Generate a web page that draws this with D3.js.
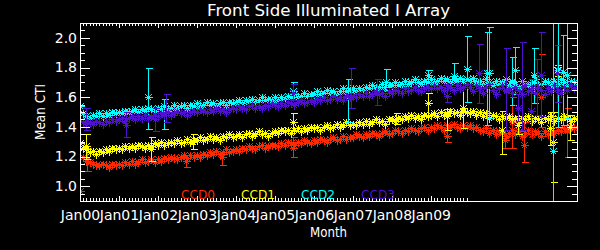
<!DOCTYPE html>
<html>
<head>
<meta charset="utf-8">
<script src="https://cdn.jsdelivr.net/npm/d3@7"></script>
<style>
  body { margin: 0; background: #000; }
  svg { display: block; background: #000; }
</style>
</head>
<body>
<svg id="chart" width="600" height="250"></svg>
<script>
// data, one value per month starting Jan 2000
const seriesNames = ["CCD0", "CCD1", "CCD2", "CCD3"];
const seriesColors = ["#ff2800", "#ffff00", "#00ffff", "#5010d0"];
const tickLabels = ["Jan00", "Jan01", "Jan02", "Jan03", "Jan04", "Jan05", "Jan06", "Jan07", "Jan08", "Jan09"];

const ccd0 = [0.97,1.20,1.17,1.16,1.15,1.145,1.14,1.15,1.14,1.13,1.15,1.14,
  1.15,1.14,1.16,1.15,1.17,1.15,1.16,1.18,1.16,1.17,1.18,1.16,
  1.18,1.17,1.19,1.18,1.20,1.19,1.18,1.20,1.21,1.19,1.21,1.20,
  1.21,1.20,1.22,1.21,1.23,1.22,1.24,1.22,1.23,1.25,1.23,1.24,
  1.25,1.24,1.26,1.25,1.27,1.26,1.25,1.27,1.28,1.26,1.27,1.28,
  1.28,1.27,1.29,1.28,1.30,1.29,1.28,1.30,1.29,1.31,1.30,1.29,
  1.31,1.30,1.32,1.31,1.30,1.32,1.33,1.31,1.32,1.34,1.32,1.33,
  1.33,1.35,1.34,1.33,1.35,1.34,1.36,1.35,1.34,1.36,1.37,1.35,
  1.36,1.38,1.37,1.36,1.38,1.37,1.39,1.38,1.37,1.39,1.40,1.38,
  1.40,1.39,1.41,1.40,1.38,1.41,1.40,1.42,1.40,1.39,1.41,1.40,
  1.41,1.39,1.40,1.38,1.37,1.39,1.36,1.38,1.35,1.37,1.36,1.34,
  1.36,1.38,1.35,1.37,1.34,1.36,1.38,1.35,1.37,1.36,1.34,1.37,
  1.35,1.37,1.36,1.38,1.37,1.39,1.38,1.40,1.39];

const ccd1 = [1.29,1.26,1.25,1.23,1.24,1.22,1.24,1.23,1.25,1.24,1.26,1.25,
  1.26,1.25,1.27,1.26,1.27,1.26,1.28,1.27,1.26,1.28,1.27,1.29,
  1.28,1.30,1.28,1.29,1.30,1.29,1.31,1.29,1.30,1.32,1.30,1.31,
  1.31,1.33,1.31,1.32,1.34,1.32,1.33,1.31,1.34,1.33,1.35,1.33,
  1.34,1.35,1.33,1.35,1.36,1.34,1.35,1.37,1.35,1.36,1.34,1.36,
  1.37,1.36,1.38,1.37,1.38,1.36,1.38,1.39,1.37,1.39,1.38,1.40,
  1.39,1.40,1.38,1.40,1.41,1.39,1.40,1.42,1.40,1.41,1.43,1.41,
  1.42,1.41,1.43,1.42,1.44,1.42,1.43,1.45,1.43,1.44,1.42,1.45,
  1.45,1.44,1.46,1.45,1.47,1.46,1.48,1.46,1.47,1.45,1.48,1.47,
  1.48,1.49,1.47,1.50,1.48,1.49,1.51,1.49,1.50,1.48,1.51,1.50,
  1.49,1.51,1.48,1.50,1.47,1.49,1.46,1.48,1.47,1.45,1.47,1.46,
  1.47,1.45,1.46,1.44,1.46,1.45,1.47,1.44,1.46,1.45,1.43,1.46,
  1.45,1.47,1.44,1.46,1.45,1.47,1.46,1.44,1.46];

const ccd2 = [1.54,1.49,1.47,1.46,1.48,1.47,1.49,1.47,1.49,1.48,1.50,1.49,
  1.50,1.49,1.51,1.50,1.51,1.52,1.50,1.52,1.51,1.53,1.52,1.51,
  1.53,1.52,1.54,1.52,1.53,1.55,1.53,1.54,1.55,1.53,1.55,1.54,
  1.56,1.54,1.55,1.57,1.55,1.56,1.54,1.56,1.57,1.55,1.57,1.56,
  1.57,1.58,1.56,1.58,1.57,1.59,1.57,1.58,1.60,1.58,1.59,1.58,
  1.60,1.58,1.60,1.59,1.61,1.60,1.62,1.60,1.61,1.63,1.61,1.62,
  1.62,1.64,1.62,1.63,1.65,1.63,1.64,1.62,1.64,1.66,1.64,1.65,
  1.66,1.64,1.66,1.65,1.67,1.66,1.68,1.66,1.67,1.69,1.67,1.68,
  1.68,1.70,1.68,1.69,1.71,1.69,1.70,1.72,1.70,1.69,1.71,1.70,
  1.72,1.70,1.71,1.73,1.71,1.72,1.70,1.72,1.71,1.73,1.71,1.72,
  1.71,1.73,1.70,1.71,1.69,1.72,1.70,1.68,1.71,1.69,1.70,1.72,
  1.68,1.70,1.69,1.67,1.71,1.69,1.68,1.70,1.72,1.68,1.69,1.71,
  1.70,1.68,1.71,1.69,1.72,1.70,1.68,1.71,1.70];

const ccd3 = [1.44,1.43,1.42,1.43,1.42,1.44,1.43,1.42,1.44,1.43,1.45,1.44,
  1.45,1.46,1.44,1.46,1.47,1.45,1.47,1.46,1.48,1.46,1.47,1.48,
  1.47,1.49,1.48,1.50,1.48,1.49,1.51,1.49,1.50,1.48,1.50,1.51,
  1.50,1.52,1.51,1.50,1.52,1.51,1.53,1.51,1.52,1.50,1.52,1.53,
  1.52,1.54,1.53,1.52,1.54,1.55,1.53,1.54,1.53,1.55,1.54,1.56,
  1.55,1.54,1.56,1.55,1.57,1.56,1.55,1.57,1.58,1.56,1.57,1.58,
  1.57,1.59,1.58,1.60,1.58,1.59,1.61,1.59,1.60,1.58,1.61,1.60,
  1.61,1.60,1.62,1.61,1.63,1.61,1.62,1.64,1.62,1.63,1.61,1.64,
  1.63,1.65,1.64,1.63,1.66,1.64,1.65,1.67,1.65,1.64,1.66,1.67,
  1.66,1.68,1.66,1.67,1.65,1.68,1.67,1.65,1.68,1.66,1.67,1.69,
  1.67,1.64,1.68,1.66,1.63,1.67,1.69,1.65,1.62,1.66,1.68,1.64,
  1.66,1.63,1.67,1.65,1.62,1.68,1.64,1.66,1.63,1.67,1.65,1.62,
  1.66,1.64,1.68,1.65,1.63,1.67,1.65,1.68,1.66];

// points with error bars: [month, value, low, high]
const ccd0Err = [[2.2,1.18,1.10,1.26],[32.6,1.17,1.13,1.21],[43.7,1.20,1.14,1.22],
  [65.5,1.26,1.20,1.33],[113,1.34,1.30,1.39],[130.8,1.31,1.26,1.38],[133,1.43,1.26,1.60],
  [136.6,1.28,1.16,1.43],[141.8,1.60,1.40,1.89],[149.8,1.37,1.20,1.53]];
const ccd1Err = [[1.8,1.27,1.18,1.35],[21.8,1.25,1.17,1.33],[34.8,1.30,1.25,1.35],
  [65.5,1.43,1.37,1.49],[97.2,1.45,1.42,1.49],[107,1.56,1.48,1.63],[113,1.47,1.38,1.52],
  [117.8,1.53,1.39,1.72],[129.8,1.38,1.22,1.51],[134.8,1.41,1.35,1.47],[144.6,1.39,1.28,1.50],
  [145.5,1.30,1.03,1.50],[146.8,1.78,1.74,1.82],[150.8,1.40,1.31,1.48]];
const ccd2Err = [[20.9,1.60,1.385,1.80],[25.8,1.49,1.385,1.59],[65.5,1.64,1.60,1.70],
  [82.5,1.60,1.43,1.72],[94.2,1.70,1.65,1.79],[107,1.75,1.72,1.78],[115,1.74,1.70,1.83],
  [119,1.79,1.57,2.01],[125.2,1.76,1.41,2.04],[125.8,1.76,1.46,2.07],[133,1.71,1.55,1.87],
  [133.8,1.78,1.62,1.94],[139.7,1.75,1.56,1.93],[145.5,1.24,0.80,2.30],[147,1.78,1.40,2.30],
  [148.6,1.77,1.41,2.02],[149.8,1.75,1.46,2.30]];
const ccd3Err = [[2,1.44,1.38,1.53],[14.2,1.41,1.33,1.50],[23,1.45,1.37,1.53],
  [26.5,1.50,1.43,1.62],[65.5,1.63,1.58,1.69],[83.4,1.60,1.53,1.80],[91.4,1.63,1.55,1.72],
  [113,1.61,1.57,1.66],[122.8,1.76,1.56,1.96],[131,1.65,1.38,1.93],[134.8,1.53,1.44,1.62],
  [136,1.67,1.38,1.97],[138.8,1.51,1.33,1.72],[140.6,1.66,1.48,1.86],[141.8,1.75,1.47,2.04],
  [146.8,1.76,1.57,1.95]];

const bands = [ccd0, ccd1, ccd2, ccd3];
const errs = [ccd0Err, ccd1Err, ccd2Err, ccd3Err];

const plotLeft = 80, plotRight = 577, plotTop = 23, plotBottom = 201;
const fontFam = "'DejaVu Sans', sans-serif";

const x = d3.scaleLinear().domain([0, 153]).range([plotLeft, plotRight]);
const y = d3.scaleLinear().domain([0.9, 2.1]).range([plotBottom, plotTop]);

const svg = d3.select("#chart");

svg.append("defs").append("clipPath").attr("id", "plotclip")
  .append("rect").attr("x", plotLeft).attr("y", plotTop)
  .attr("width", plotRight - plotLeft).attr("height", plotBottom - plotTop);

// asterisk like IDL psym=2
function star(cx, cy, r) {
  cx = Math.round(cx) + 0.5; cy = Math.round(cy) + 0.5;
  const d = Math.round(r * 0.75);
  return `M${cx - r},${cy}H${cx + r}M${cx},${cy - r}V${cy + r}` +
    `M${cx - d},${cy - d}L${cx + d},${cy + d}M${cx - d},${cy + d}L${cx + d},${cy - d}`;
}

const plot = svg.append("g").attr("clip-path", "url(#plotclip)")
  .attr("shape-rendering", "crispEdges");

bands.forEach((vals, i) => {
  const g = plot.append("g").attr("stroke", seriesColors[i]).attr("fill", "none")
    .attr("stroke-width", 1);

  g.append("path")
    .attr("d", vals.map((v, m) => star(x(m), y(v), 4)).join(""));

  const e = errs[i];
  g.selectAll(".bar").data(e).enter().append("path")
    .attr("class", "bar")
    .attr("d", d => {
      const cx = Math.round(x(d[0])) + 0.5;
      const y1 = Math.round(y(d[2])) + 0.5, y2 = Math.round(y(d[3])) + 0.5;
      return `M${cx},${y1}V${y2}M${cx - 3},${y1}H${cx + 4}M${cx - 3},${y2}H${cx + 4}`;
    });
  g.selectAll(".pt").data(e).enter().append("path")
    .attr("class", "pt")
    .attr("d", d => star(x(d[0]), y(d[1]), 4));
});

// axes
function styleAxis(g) {
  g.select(".domain").remove();
  g.selectAll("line").attr("stroke", "#fff").attr("shape-rendering", "crispEdges");
  g.attr("font-family", fontFam).attr("font-size", 14);
  g.selectAll("text").attr("fill", "#fff");
}

const minorMonths = d3.range(0, 120);
const majorMonths = d3.range(0, 120, 12);
const minorY = d3.range(18, 43).map(d => d / 20);
const majorY = [1.0, 1.2, 1.4, 1.6, 1.8, 2.0];

svg.append("g").attr("transform", `translate(0,${plotBottom})`)
  .call(d3.axisBottom(x).tickValues(minorMonths).tickSize(-3).tickFormat(""))
  .call(styleAxis);
svg.append("g").attr("transform", `translate(0,${plotBottom})`)
  .call(d3.axisBottom(x).tickValues(majorMonths).tickSize(-5).tickPadding(9)
    .tickFormat((d, i) => tickLabels[i]))
  .call(styleAxis);
svg.append("g").attr("transform", `translate(0,${plotTop})`)
  .call(d3.axisTop(x).tickValues(minorMonths).tickSize(-3).tickFormat(""))
  .call(styleAxis);
svg.append("g").attr("transform", `translate(0,${plotTop})`)
  .call(d3.axisTop(x).tickValues(majorMonths).tickSize(-5).tickFormat(""))
  .call(styleAxis);

svg.append("g").attr("transform", `translate(${plotLeft},0)`)
  .call(d3.axisLeft(y).tickValues(minorY).tickSize(-5).tickFormat(""))
  .call(styleAxis);
svg.append("g").attr("transform", `translate(${plotLeft},0)`)
  .call(d3.axisLeft(y).tickValues(majorY).tickSize(-10).tickPadding(3).tickFormat(d3.format(".1f")))
  .call(styleAxis);
svg.append("g").attr("transform", `translate(${plotRight},0)`)
  .call(d3.axisRight(y).tickValues(minorY).tickSize(-5).tickFormat(""))
  .call(styleAxis);
svg.append("g").attr("transform", `translate(${plotRight},0)`)
  .call(d3.axisRight(y).tickValues(majorY).tickSize(-10).tickFormat(""))
  .call(styleAxis);

// frame
svg.append("rect")
  .attr("x", plotLeft + 0.5).attr("y", plotTop + 0.5)
  .attr("width", plotRight - plotLeft).attr("height", plotBottom - plotTop)
  .attr("fill", "none").attr("stroke", "#fff").attr("shape-rendering", "crispEdges");

// title and axis titles
svg.append("text")
  .attr("x", (plotLeft + plotRight) / 2).attr("y", 16)
  .attr("text-anchor", "middle")
  .attr("font-family", fontFam).attr("font-size", 15).attr("fill", "#fff")
  .attr("textLength", 243).attr("lengthAdjust", "spacingAndGlyphs")
  .text("Front Side Illuminated I Array");

svg.append("text")
  .attr("transform", `translate(45,${(plotTop + plotBottom) / 2}) rotate(-90)`)
  .attr("text-anchor", "middle")
  .attr("font-family", fontFam).attr("font-size", 14).attr("fill", "#fff")
  .attr("textLength", 56).attr("lengthAdjust", "spacingAndGlyphs")
  .text("Mean CTI");

svg.append("text")
  .attr("x", (plotLeft + plotRight) / 2).attr("y", 237)
  .attr("text-anchor", "middle")
  .attr("font-family", fontFam).attr("font-size", 14).attr("fill", "#fff")
  .attr("textLength", 37).attr("lengthAdjust", "spacingAndGlyphs")
  .text("Month");

// legend
svg.append("g").selectAll("text")
  .data(seriesNames)
  .enter().append("text")
  .attr("x", (d, i) => 181 + i * 60)
  .attr("y", 199)
  .attr("font-family", fontFam).attr("font-size", 13)
  .attr("textLength", 34).attr("lengthAdjust", "spacingAndGlyphs")
  .attr("fill", (d, i) => seriesColors[i])
  .text(d => d);
</script>
</body>
</html>
